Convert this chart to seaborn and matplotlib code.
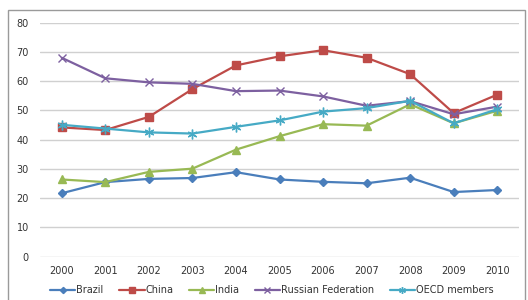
import numpy as np
import pandas as pd
import matplotlib
matplotlib.use("Agg")
import matplotlib.pyplot as plt
import seaborn as sns
from matplotlib.patches import Rectangle

years = [2000, 2001, 2002, 2003, 2004, 2005, 2006, 2007, 2008, 2009, 2010]
brazil = [21.7, 25.5, 26.6, 26.9, 28.9, 26.4, 25.6, 25.1, 27.0, 22.1, 22.8]
china = [44.2, 43.3, 47.8, 57.3, 65.4, 68.5, 70.6, 68.0, 62.4, 49.1, 55.4]
india = [26.4, 25.5, 29.0, 30.1, 36.6, 41.2, 45.3, 44.8, 52.1, 45.6, 49.9]
russia = [68.0, 61.0, 59.6, 59.1, 56.6, 56.8, 54.8, 51.6, 53.2, 48.7, 51.3]
oecd = [45.1, 43.8, 42.5, 42.1, 44.4, 46.6, 49.6, 50.8, 53.3, 45.6, 50.4]
series_names = ["Brazil", "China", "India", "Russian Federation", "OECD members"]

df = pd.DataFrame({"year": years, "Brazil": brazil, "China": china, "India": india,
                   "Russian Federation": russia, "OECD members": oecd})
long = df.melt(id_vars="year", var_name="country", value_name="value")

sns.set_style("white")
plt.rcParams["font.family"] = ["DejaVu Sans"]

colors = {"Brazil": "#4a7ebb", "China": "#be4b48", "India": "#98b954",
          "Russian Federation": "#7d60a0", "OECD members": "#46aac5"}
markers = {"Brazil": "D", "China": "s", "India": "^",
           "Russian Federation": "x", "OECD members": (6, 2, 0)}
msizes = {"Brazil": 4.5, "China": 6.0, "India": 5.5, "Russian Federation": 6, "OECD members": 7}

fig = plt.figure(figsize=(5.28, 3.0), dpi=100)
ax = fig.add_axes([40 / 528, 1 - 256.7 / 300, 479 / 528, 234 / 300])

for name in series_names:
    sub = long[long["country"] == name]
    sns.lineplot(data=sub, x="year", y="value", ax=ax, color=colors[name],
                 marker=markers[name], markersize=msizes[name], linewidth=1.6,
                 markeredgecolor=colors[name], markeredgewidth=1.0, label=name,
                 legend=False)

ax.set_xlim(1999.5, 2010.5)
ax.set_ylim(0, 80)
ax.set_xticks(years)
ax.set_yticks(range(0, 81, 10))
ax.set_xlabel("")
ax.set_ylabel("")
ax.grid(axis="y", color="#d0d0d0", linewidth=1.0)
ax.set_axisbelow(True)
for s in ax.spines.values():
    s.set_visible(False)
ax.tick_params(axis="both", length=0, labelsize=7, colors="#333333")
ax.tick_params(axis="x", pad=7)
ax.tick_params(axis="y", pad=8)

handles, labels = ax.get_legend_handles_labels()
fig.legend(handles, labels, loc="center", bbox_to_anchor=(0.515, 1 - 290 / 300), ncol=5,
           frameon=False, fontsize=7, handlelength=2.6, columnspacing=1.6,
           handletextpad=0.1, labelcolor="#333333", markerscale=0.7)

fig.patches.append(Rectangle((8 / 528, -0.01), 517 / 528, 1 - 10 / 300 + 0.01,
                             transform=fig.transFigure, fill=False,
                             edgecolor="#9a9a9a", linewidth=1.0, linestyle="-"))

fig.savefig("out.png", dpi=100)
